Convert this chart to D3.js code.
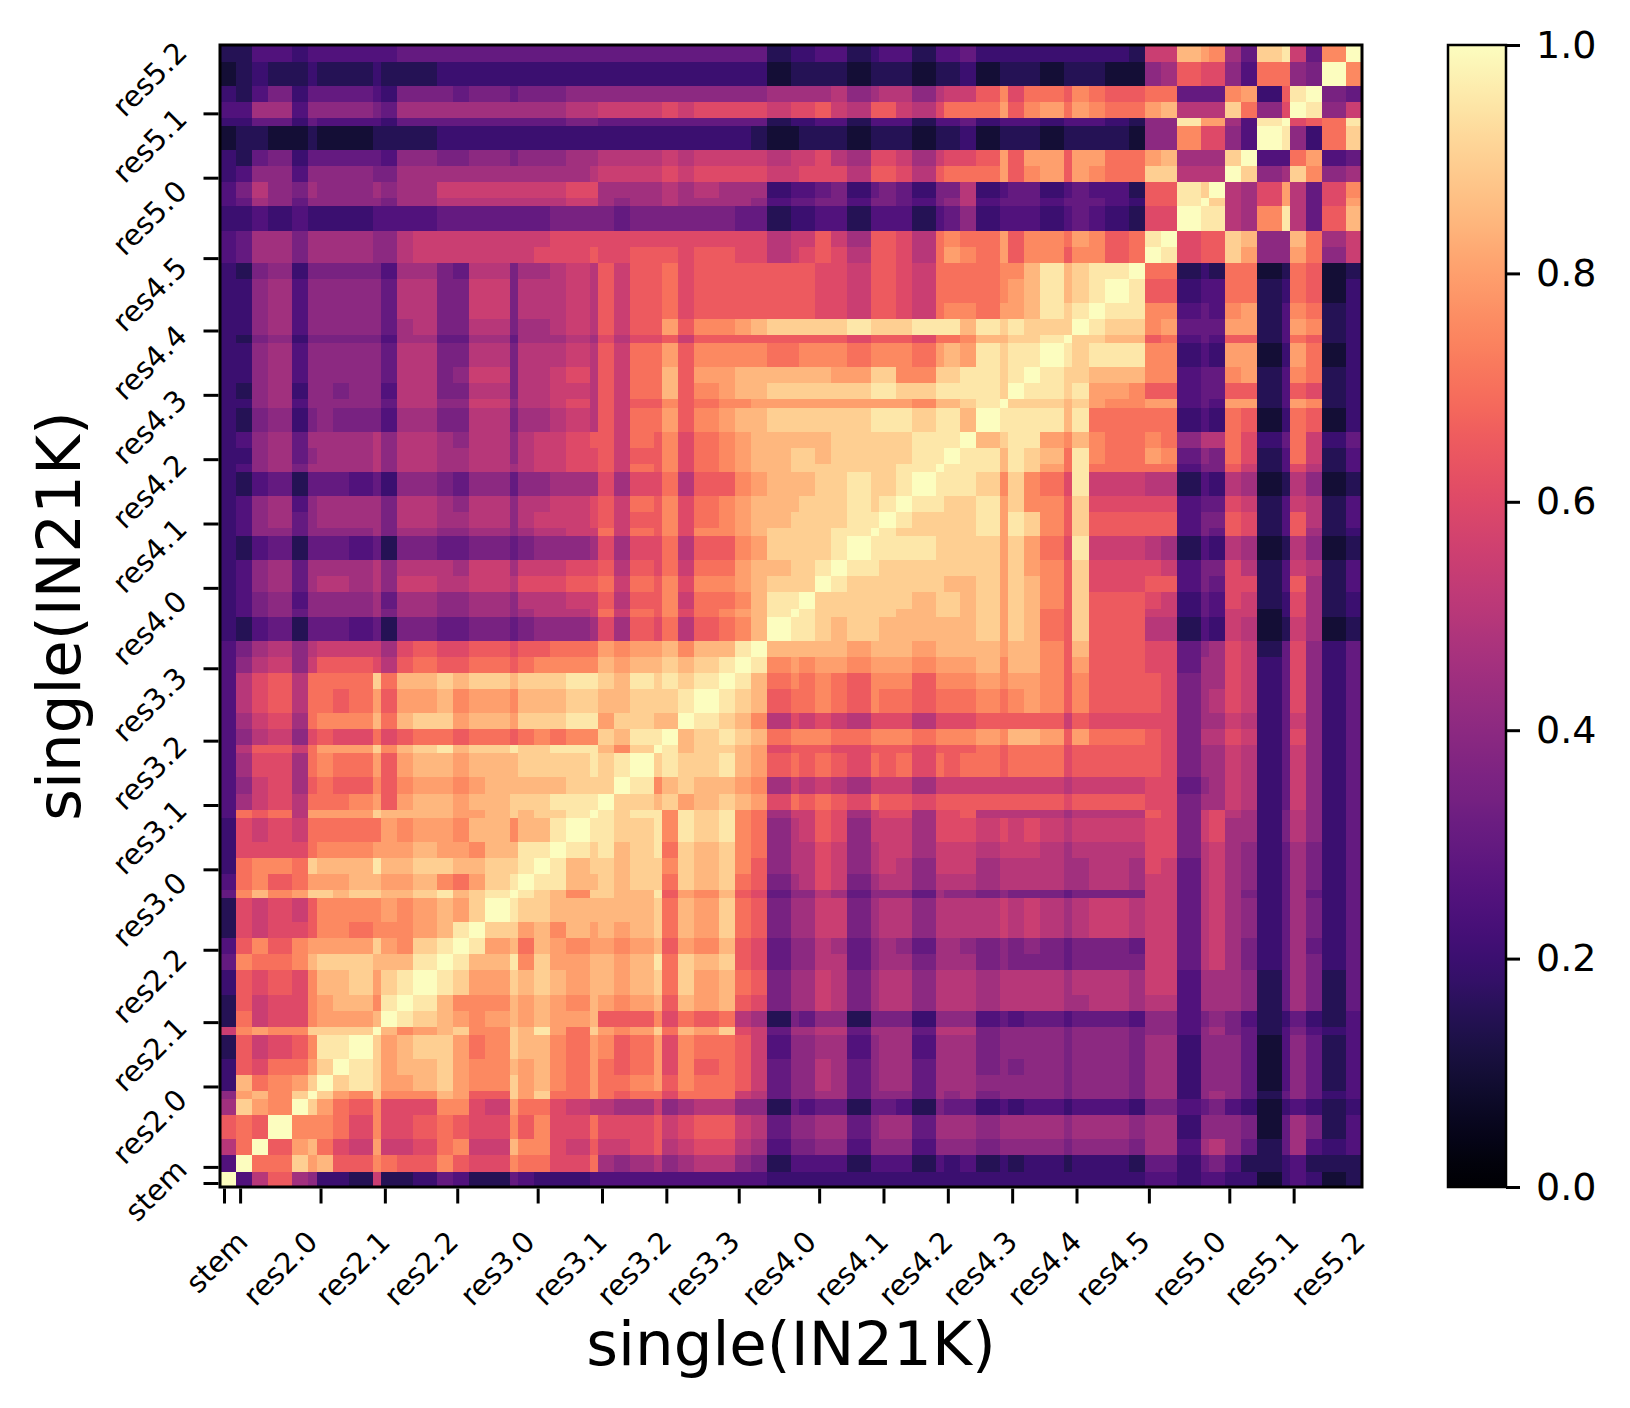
<!DOCTYPE html>
<html><head><meta charset="utf-8">
<script src="https://cdn.jsdelivr.net/npm/d3@7"></script>
<style>html,body{margin:0;background:#fff}svg{display:block}text{font-family:"DejaVu Sans",sans-serif;fill:#000}</style>
</head><body><svg id="chart" width="1630" height="1408"></svg>
<script>
// ---- data ----
const layerLabels = ["stem","res2.0","res2.1","res2.2","res3.0","res3.1","res3.2","res3.3",
  "res4.0","res4.1","res4.2","res4.3","res4.4","res4.5","res5.0","res5.1","res5.2"];
const tickIndex = [0,2,12,20,29,39,47,55,64,74,82,90,98,106,115,125,133];
const labelIndex = [-0.4,7.5,16.5,25,34.5,43.5,51.5,60,69.5,78.5,86.5,94.5,102.5,111,120.5,129.5,137.75];
const layerCount = 142;
// groups of layers with (nearly) identical similarity profiles, as layer-index edges
const segmentEdges = [0,2,4,6,9,11,12,14,16,19,20,22,24,27,29,31,33,36,37,39,41,43,46,47,49,51,54,55,
  57,59,62,64,66,68,71,72,74,76,78,81,82,84,86,89,90,92,94,97,98,100,102,105,106,108,110,113,115,
  117,119,122,123,125,127,129,132,133,135,137,140,142];
// similarity code per cell: position in this string / 20  (0 -> 0.00 ... K -> 1.00)
const valueCodes = "0123456789ABCDEFGHIJK";
// lower triangle of the symmetric similarity matrix (row i holds columns 0..i)
const similarityRows = [
"K","5K","AEK","DEDK","9IGFK","8GHFIK","4HEFGIK","4DCEEGIK","3DBCDFJJK","BFGFFIIIIK",
"3EBCCFGGGHK","3DBCCFGHHFJK","4DCDCFHHIGIJK","6FEEFHIIIHHHJK","5DFDFGGGGIGFIJK",
"3CBCCDFFEFFFGHJK","3CBCBDFFFFGFGHGIK","6FHFGIIHIIHHIJHIJK","5EFDEGGGHHGGHFEGIJK",
"4EFFEIHHHJHHIIHHIIJK","4CCCCEFFFGGGHGGFHHJJK","4CBCBEEEEEGFGGFHHFHHJK","5EDEAGGGGIHHHHGGHIHIIJK",
"59BCAEEEFGDGHHGHHIIIJJJ"+"K",
"58BC9DEDDFDFGGFGHHHHHII"+"IK",
"59CC9EFEEGDGHHGHHHIIIIJ"+"IJK",
"5ADDBEGGGIFHIJHIIJIIJJJ"+"HFIK",
"58AB8CDCCECDEEDEEDEFEFF"+"IHJJK",
"59BC9EFFFHEHIIGHHGIIIJJ"+"GIIHHK",
"5ACDAEEDEGDGGHFGGFHHHII"+"HHIIIJK",
"5ACDAEEEEIEHHIHIIHIIIJJ"+"IHJIJIJK",
"58AB8BDDDCADEDDEEDEFFFF"+"HGHHIHIJK",
"579A8ABBBB9CDCCDDCDDEEE"+"GFGGHFHHJK",
"43563666563776677678889"+"C9DCEADEFHK",
"45786888897"+"99889989AAAB"+"EBEDFCEFGHJK",
"45785888896"+"9988998AAABB"+"DADDFBEEFHJJK",
"458969AA9A8"+"BBAABBACCCDD"+"EBEDFCFFGHIIIK",
"458969999A8"+"AAA9BB9BBBCC"+"DADCEBEEGHHIIJK",
"43563666563776677678889"+"C9CCEADDFGIIIIJK",
"45886888897"+"99889989AABB"+"EBEDFCFFGHIIIIJJK",
"45896899997"+"AA99AA8ABBBC"+"DBDDFCEFGHHIIIIJJK",
"45895899997"+"AA98AA8AABBC"+"DBEDFCEFGHHHIIIJIJK",
"43563666564887688688999"+"C9CCEADDFGHHHIIJIIJK",
"458979999A8"+"AA99AA9ABBCC"+"DBEDFCEFGHHIIIIIIIJJK",
"448968999A8"+"AA99AA8ABBCC"+"DBDDFCEFGHHIIHIIIIIJJK",
"458969999A8"+"AA98AA8ABBCD"+"DBEDFCEFGHHHHHIIIIIJJJK",
"43784787775"+"9977AA799ABA"+"DBEEGDFGHHIIIIIIJJJIJJH"+"K",
"44895888886"+"AA88BB8AABCA"+"DBDDFDEFFGGGGGGGGGGFHHI"+"JK",
"43894887885"+"AA77AA7AABBA"+"DBEEHDFGHHIIIIIIJJIIJJJ"+"JIK",
"44895888886"+"AA78BB7AABCA"+"DBEEHDGGHHHHHHGGIIFFIIJ"+"JIJK",
"44895888886"+"AA77AA7AAABA"+"DBEEGDFFFFEEFFFEFFFEGHG"+"JIJJK",
"43784777775"+"9966996999A9"+"CACCDBDDDDDDDDDCDDDCEEF"+"HHIIJK",
"44895888886"+"9A77AA799ABA"+"DBDDGDFFGHIIIIIJIIIJJJH"+"JIJIIIK",
"44895888886"+"AA77BB7AAABA"+"DBDDECDDDDDDDCCBDDCBEFF"+"EGGHJIJK",
"44895888886"+"AA77BB7AAABA"+"DBDDECDDDDDDDCCBDDCBEEE"+"EFGHJHIJK",
"43784777775"+"9976AA799ABA"+"DBDDECDDDDDDDCCBDDCBEEE"+"EFFHJHIJJK",
"56997999988ABBBBBBBCCCD"+"CCDDDCDDCCABCDCADDCAEGF"+"EGDFFDFFDEK",
"56997999988ABBBBBBBBCCC"+"CCCCCCCCCCABBDB9DDCAEFE"+"EGDFFEGFDEJK",
"44545444455556666666777"+"76777777663445535553568"+"4555456543CCK",
"5698688888799AAAAAAAABB"+"9899A99998566775776578A"+"5666566654DDJK",
"57A8798889899BBBBBBBBCC"+"9999A9A999455674676477A"+"4566456553DDJIK",
"4588588887799999999999A"+"BBBBCBCCCCBBCCCADDCADEE"+"EGDFGDGFEEIIAAAK",
"43674666665887788788899"+"AAAABABBBBABBCA9CCB9BCC"+"DGDGGDGGEEGH999IK",
"23322322233334444444444"+"44444444432233323332334"+"233323333288FCC85K",
"44664655554666666666677"+"66666666663445535553556"+"455545554388JGG95JK",
"559958888769999999999AA"+"BBBBCBCCCCBCCDBADDBACEE"+"EGDFGEGFEEGHAAAIE8CK",
"43574666654777677677788"+"88888888889999A89AA8ABB"+"DFCEEDFEDDEE666FG4DJK",
"23433433343334444444444"+"44444444442333323332334"+"233323332289DCC85EE87K",
"33554555555666666666666"+"66666666663445534553556"+"4444444443BBHGF96IJB6FK"
];
const colorbarTicks = [0.0,0.2,0.4,0.6,0.8,1.0];
const axisTitle = "single(IN21K)";

// ---- layout ----
const W = 1630, H = 1408;
const plotLeft = 220, plotTop = 45, plotSize = 1142;
const plotRight = plotLeft + plotSize, plotBottom = plotTop + plotSize;
const svg = d3.select("#chart");
svg.append("rect").attr("width", W).attr("height", H).attr("fill", "#fff");

const x = d3.scaleLinear().domain([0, layerCount]).range([plotLeft, plotRight]);
const y = d3.scaleLinear().domain([0, layerCount]).range([plotBottom, plotTop]);
const color = d3.scaleSequential(d3.interpolateMagma).domain([0, 1]);

// decode matrix cells
const cells = [];
similarityRows.forEach((row, i) => {
  for (let j = 0; j <= i && j < row.length; j++) {
    const v = valueCodes.indexOf(row[j]) / 20;
    cells.push({r: i, c: j, v});
    if (i !== j) cells.push({r: j, c: i, v});
  }
});

svg.append("g").attr("shape-rendering", "crispEdges")
  .selectAll("rect").data(cells).join("rect")
  .attr("x", d => x(segmentEdges[d.c]))
  .attr("y", d => y(segmentEdges[d.r + 1]))
  .attr("width", d => x(segmentEdges[d.c + 1]) - x(segmentEdges[d.c]) + 0.6)
  .attr("height", d => y(segmentEdges[d.r]) - y(segmentEdges[d.r + 1]) + 0.6)
  .attr("fill", d => color(d.v));

// frame
svg.append("rect").attr("x", plotLeft).attr("y", plotTop)
  .attr("width", plotSize).attr("height", plotSize)
  .attr("fill", "none").attr("stroke", "#000").attr("stroke-width", 3);

// ticks
const tickPos = tickIndex.map(d => d + 0.5);
const xAxis = svg.append("g").attr("transform", `translate(0,${plotBottom + 1.5})`)
  .call(d3.axisBottom(x).tickValues(tickPos).tickFormat("").tickSize(15).tickSizeOuter(0));
const yAxis = svg.append("g").attr("transform", `translate(${plotLeft - 1.5},0)`)
  .call(d3.axisLeft(y).tickValues(tickPos).tickFormat("").tickSize(15).tickSizeOuter(0));
[xAxis, yAxis].forEach(g => {
  g.select(".domain").remove();
  g.selectAll(".tick line").attr("stroke", "#000").attr("stroke-width", 3);
});

// tick labels (rotated 45 degrees, at block centres)
const fs = 29;
svg.append("g").selectAll("text").data(layerLabels).join("text")
  .attr("font-size", fs).attr("text-anchor", "middle").attr("dominant-baseline", "central")
  .text(d => d)
  .each(function (d, i) {
    const w = this.getComputedTextLength();
    const half = 0.7071 * (w + 0.72 * fs) / 2;
    const cx = x(labelIndex[i]), cy = plotBottom + 42 + half;
    d3.select(this).attr("x", cx).attr("y", cy).attr("transform", `rotate(-45 ${cx} ${cy})`);
  });
svg.append("g").selectAll("text").data(layerLabels).join("text")
  .attr("font-size", fs).attr("text-anchor", "middle").attr("dominant-baseline", "central")
  .text(d => d)
  .each(function (d, i) {
    const w = this.getComputedTextLength();
    const half = 0.7071 * (w + 0.72 * fs) / 2;
    const cx = plotLeft - 31 - half, cy = y(labelIndex[i]);
    d3.select(this).attr("x", cx).attr("y", cy).attr("transform", `rotate(-45 ${cx} ${cy})`);
  });

// axis titles
svg.append("text").attr("x", (plotLeft + plotRight) / 2).attr("y", 1365)
  .attr("text-anchor", "middle").attr("font-size", 61).text(axisTitle);
svg.append("text").attr("transform", `translate(80,${(plotTop + plotBottom) / 2}) rotate(-90)`)
  .attr("text-anchor", "middle").attr("font-size", 61).text(axisTitle);

// colorbar
const cbX = 1448, cbW = 58;
const cb = d3.scaleLinear().domain([0, 1]).range([plotBottom, plotTop]);
const defs = svg.append("defs");
const grad = defs.append("linearGradient").attr("id", "magmaGrad")
  .attr("x1", 0).attr("y1", 1).attr("x2", 0).attr("y2", 0);
grad.selectAll("stop").data(d3.range(0, 1.0001, 0.02)).join("stop")
  .attr("offset", d => d).attr("stop-color", d => color(d));
svg.append("rect").attr("x", cbX).attr("y", plotTop).attr("width", cbW).attr("height", plotSize)
  .attr("fill", "url(#magmaGrad)").attr("stroke", "#000").attr("stroke-width", 2.5);
const cbAxis = svg.append("g").attr("transform", `translate(${cbX + cbW},0)`)
  .call(d3.axisRight(cb).tickValues(colorbarTicks).tickFormat(d3.format(".1f")).tickSize(14).tickPadding(16).tickSizeOuter(0));
cbAxis.select(".domain").remove();
cbAxis.selectAll(".tick line").attr("stroke", "#000").attr("stroke-width", 3);
cbAxis.selectAll(".tick text").attr("font-size", 38).attr("font-family", "DejaVu Sans").attr("fill", "#000");
</script>
</body></html>
